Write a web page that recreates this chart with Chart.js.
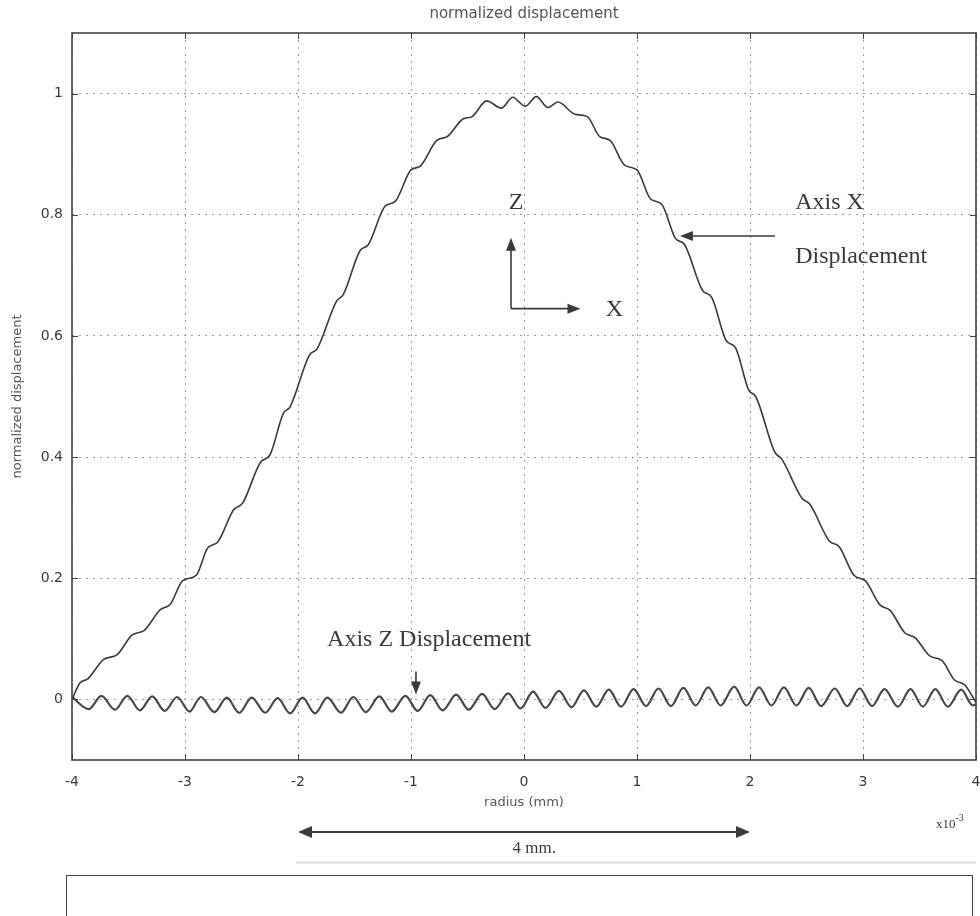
<!DOCTYPE html>
<html>
<head>
<meta charset="utf-8">
<title>normalized displacement</title>
<script src="https://cdn.jsdelivr.net/npm/chart.js@4.4.1/dist/chart.umd.min.js"></script>
<style>
  body { margin: 0; background: #fff; }
  #wrap { position: relative; width: 980px; height: 916px; overflow: hidden; }
  #smudge { position: absolute; left: 296px; top: 861px; width: 680px; height: 3px; background: #e6e6e6; }
  #box { position: absolute; left: 66px; top: 875px; width: 905px; height: 80px; border: 1.5px solid #444; }
</style>
</head>
<body>
<div id="wrap">
  <canvas id="chart" width="980" height="916"></canvas>
  <div id="smudge"></div>
  <div id="box"></div>
</div>
<script>
// axis ticks
const xTicks = [-4, -3, -2, -1, 0, 1, 2, 3, 4];
const yTicks = [0, 0.2, 0.4, 0.6, 0.8, 1];

// Axis X displacement (radius in mm x10^-3, normalized value)
const xDispR = [-4.0,
  -3.93, -3.86, -3.72, -3.60, -3.47, -3.36, -3.22, -3.13, -3.02, -2.90,
  -2.80, -2.71, -2.57, -2.49, -2.33, -2.25, -2.13, -2.07, -1.90, -1.83,
  -1.66, -1.60, -1.45, -1.38, -1.23, -1.14, -1.00, -0.92, -0.77, -0.68,
  -0.54, -0.46,
  -0.33, -0.20, -0.10, 0.01, 0.11, 0.21, 0.30,
  0.45, 0.56, 0.67, 0.76, 0.89, 1.00, 1.12, 1.22, 1.34, 1.42,
  1.58, 1.66, 1.79, 1.87, 1.99, 2.05, 2.22, 2.28, 2.46, 2.53,
  2.70, 2.79, 2.92, 3.02, 3.15, 3.24, 3.37, 3.46, 3.59, 3.70,
  3.81, 3.90,
  4.0];
const xDispV = [0.0,
  0.027, 0.034, 0.066, 0.074, 0.106, 0.114, 0.148, 0.157, 0.196, 0.205,
  0.250, 0.260, 0.313, 0.324, 0.392, 0.403, 0.472, 0.483, 0.568, 0.579,
  0.657, 0.668, 0.741, 0.750, 0.814, 0.822, 0.874, 0.880, 0.923, 0.929,
  0.958, 0.962,
  0.988, 0.976, 0.994, 0.979, 0.995, 0.977, 0.986,
  0.966, 0.962, 0.929, 0.923, 0.882, 0.874, 0.826, 0.817, 0.761, 0.751,
  0.675, 0.664, 0.592, 0.581, 0.510, 0.500, 0.408, 0.397, 0.332, 0.322,
  0.262, 0.252, 0.205, 0.196, 0.156, 0.147, 0.110, 0.102, 0.072, 0.064,
  0.032, 0.024,
  -0.005];

// Axis Z displacement, troughs and crests
const zDispR = [-4.0,
  -3.85, -3.74, -3.62, -3.51, -3.40, -3.29, -3.18, -3.07, -2.96, -2.86,
  -2.74, -2.63, -2.52, -2.41, -2.29, -2.18, -2.07, -1.96, -1.85, -1.74,
  -1.62, -1.51, -1.40, -1.28, -1.17, -1.05, -0.94, -0.83, -0.72, -0.60,
  -0.49, -0.37, -0.26, -0.14, -0.03, 0.08, 0.19, 0.31, 0.42, 0.53,
  0.64, 0.75, 0.86, 0.97, 1.08, 1.19, 1.30, 1.41, 1.52, 1.63,
  1.74, 1.86, 1.97, 2.08, 2.19, 2.30, 2.41, 2.52, 2.63, 2.75,
  2.86, 2.97, 3.08, 3.19, 3.31, 3.42, 3.53, 3.64, 3.75, 3.87,
  3.97, 4.0];
const zDispV = [0.004,
  -0.016, 0.006, -0.017, 0.006, -0.018, 0.005, -0.019, 0.004, -0.020, 0.004,
  -0.021, 0.003, -0.022, 0.003, -0.022, 0.002, -0.023, 0.003, -0.023, 0.003,
  -0.022, 0.004, -0.021, 0.005, -0.020, 0.006, -0.019, 0.007, -0.018, 0.008,
  -0.017, 0.009, -0.016, 0.010, -0.015, 0.013, -0.014, 0.014, -0.013, 0.015,
  -0.012, 0.016, -0.012, 0.017, -0.011, 0.018, -0.011, 0.019, -0.010, 0.020,
  -0.010, 0.021, -0.010, 0.020, -0.010, 0.020, -0.010, 0.019, -0.011, 0.018,
  -0.011, 0.018, -0.011, 0.017, -0.012, 0.017, -0.012, 0.017, -0.012, 0.016,
  -0.010, -0.008];

// annotations, in data units
const noteText = [
  { text: 'Z', x: -0.07, y: 0.82, align: 'center' },
  { text: 'X', x: 0.80, y: 0.643, align: 'center' },
  { text: 'Axis X', x: 2.40, y: 0.82, align: 'left' },
  { text: 'Displacement', x: 2.40, y: 0.73, align: 'left' },
  { text: 'Axis Z Displacement', x: -0.84, y: 0.099, align: 'center' },
];
const noteArrows = [
  { from: [-0.115, 0.645], to: [-0.115, 0.762] },
  { from: [-0.115, 0.645], to: [0.50, 0.645] },
  { from: [2.22, 0.765], to: [1.38, 0.765] },
  { from: [-0.956, 0.046], to: [-0.956, 0.008] },
];
const spanArrow = { from: -2, to: 2, label: '4 mm.' };

const INK = '#3a3a3a';
const SERIF = '"Liberation Serif", "Times New Roman", serif';
const SANS = '"DejaVu Sans", sans-serif';

function toPoints(rs, vs) {
  return rs.map((r, i) => ({ x: r, y: vs[i] }));
}

function arrowHead(ctx, x1, y1, x2, y2, len, half) {
  const a = Math.atan2(y2 - y1, x2 - x1);
  ctx.beginPath();
  ctx.moveTo(x2, y2);
  ctx.lineTo(x2 - len * Math.cos(a) + half * Math.sin(a), y2 - len * Math.sin(a) - half * Math.cos(a));
  ctx.lineTo(x2 - len * Math.cos(a) - half * Math.sin(a), y2 - len * Math.sin(a) + half * Math.cos(a));
  ctx.closePath();
  ctx.fill();
}

function arrow(ctx, x1, y1, x2, y2, len, half) {
  const a = Math.atan2(y2 - y1, x2 - x1);
  ctx.beginPath();
  ctx.moveTo(x1, y1);
  ctx.lineTo(x2 - (len - 2) * Math.cos(a), y2 - (len - 2) * Math.sin(a));
  ctx.stroke();
  arrowHead(ctx, x1, y1, x2, y2, len, half);
}

// frame on all four sides, MATLAB style inward ticks
const framePlugin = {
  id: 'frame',
  afterDatasetsDraw(chart) {
    const { ctx, chartArea: a, scales: { x, y } } = chart;
    ctx.save();
    ctx.strokeStyle = '#444';
    ctx.lineWidth = 1;
    ctx.beginPath();
    xTicks.forEach(v => {
      const px = Math.round(x.getPixelForValue(v)) + 0.5;
      ctx.moveTo(px, a.bottom); ctx.lineTo(px, a.bottom - 6);
      ctx.moveTo(px, a.top); ctx.lineTo(px, a.top + 6);
    });
    yTicks.forEach(v => {
      const py = Math.round(y.getPixelForValue(v)) + 0.5;
      ctx.moveTo(a.left, py); ctx.lineTo(a.left + 6, py);
      ctx.moveTo(a.right, py); ctx.lineTo(a.right - 6, py);
    });
    ctx.stroke();
    ctx.lineWidth = 1.6;
    ctx.strokeRect(a.left, a.top, a.right - a.left, a.bottom - a.top);
    ctx.restore();
  }
};

const notesPlugin = {
  id: 'notes',
  afterDraw(chart) {
    const { ctx, chartArea: a, scales: { x, y } } = chart;
    ctx.save();
    ctx.fillStyle = INK;
    ctx.strokeStyle = INK;
    ctx.lineWidth = 1.6;

    ctx.font = '24px ' + SERIF;
    ctx.textBaseline = 'middle';
    noteText.forEach(n => {
      ctx.textAlign = n.align;
      ctx.fillText(n.text, x.getPixelForValue(n.x), y.getPixelForValue(n.y));
    });

    noteArrows.forEach(n => {
      arrow(ctx, x.getPixelForValue(n.from[0]), y.getPixelForValue(n.from[1]),
        x.getPixelForValue(n.to[0]), y.getPixelForValue(n.to[1]), 13, 5);
    });

    // 4 mm span under the axis
    const x1 = x.getPixelForValue(spanArrow.from);
    const x2 = x.getPixelForValue(spanArrow.to);
    const ya = a.bottom + 72;
    ctx.lineWidth = 1.8;
    ctx.beginPath();
    ctx.moveTo(x1 + 10, ya); ctx.lineTo(x2 - 10, ya);
    ctx.stroke();
    arrowHead(ctx, x2, ya, x1, ya, 14, 6);
    arrowHead(ctx, x1, ya, x2, ya, 14, 6);
    ctx.font = '17px ' + SERIF;
    ctx.textAlign = 'center';
    ctx.fillText(spanArrow.label, x.getPixelForValue(0.09), a.bottom + 89);

    // exponent of the x axis
    ctx.textAlign = 'left';
    ctx.textBaseline = 'alphabetic';
    ctx.font = '13px ' + SERIF;
    ctx.fillText('x10', a.right - 40, a.bottom + 68);
    const w = ctx.measureText('x10').width;
    ctx.font = '10px ' + SERIF;
    ctx.fillText('-3', a.right - 40 + w, a.bottom + 61);
    ctx.restore();
  }
};

new Chart(document.getElementById('chart'), {
  type: 'line',
  data: {
    datasets: [
      {
        label: 'Axis X Displacement',
        data: toPoints(xDispR, xDispV),
        borderColor: INK,
        borderWidth: 1.6,
        pointRadius: 0,
        cubicInterpolationMode: 'monotone',
        fill: false,
      },
      {
        label: 'Axis Z Displacement',
        data: toPoints(zDispR, zDispV),
        borderColor: '#484848',
        borderWidth: 2.2,
        pointRadius: 0,
        cubicInterpolationMode: 'monotone',
        fill: false,
      },
    ],
  },
  options: {
    responsive: false,
    animation: false,
    layout: { padding: { left: 0, right: 4, top: 0, bottom: 96 } },
    plugins: {
      legend: { display: false },
      tooltip: { enabled: false },
      title: {
        display: true,
        fullSize: false,
        text: 'normalized displacement',
        color: '#555',
        font: { family: SANS, size: 15, weight: 'normal' },
        padding: { top: 5, bottom: 10 },
      },
    },
    scales: {
      x: {
        type: 'linear',
        min: -4,
        max: 4,
        afterBuildTicks: s => { s.ticks = xTicks.map(v => ({ value: v })); },
        afterFit: s => { s.height = 60; s.paddingLeft = 0; s.paddingRight = 0; },
        ticks: {
          color: INK,
          font: { family: SANS, size: 14 },
          padding: 14,
          maxRotation: 0,
          callback: v => String(v),
        },
        grid: { color: '#9a9a9a', lineWidth: 1, drawTicks: false },
        border: { display: false, dash: [2, 5] },
        title: {
          display: true,
          text: 'radius (mm)',
          color: '#555',
          font: { family: SANS, size: 13 },
          padding: { top: 0, bottom: 10 },
        },
      },
      y: {
        min: -0.1,
        max: 1.1,
        afterBuildTicks: s => { s.ticks = yTicks.map(v => ({ value: v })); },
        afterFit: s => { s.width = 72; },
        ticks: {
          color: INK,
          font: { family: SANS, size: 14 },
          padding: 9,
          callback: v => String(Math.round(v * 10) / 10),
        },
        grid: { color: '#9a9a9a', lineWidth: 1, drawTicks: false },
        border: { display: false, dash: [2, 5] },
        title: {
          display: true,
          text: 'normalized displacement',
          color: '#555',
          font: { family: SANS, size: 13 },
          padding: { top: 10, bottom: 0 },
        },
      },
    },
  },
  plugins: [framePlugin, notesPlugin],
});
</script>
</body>
</html>
